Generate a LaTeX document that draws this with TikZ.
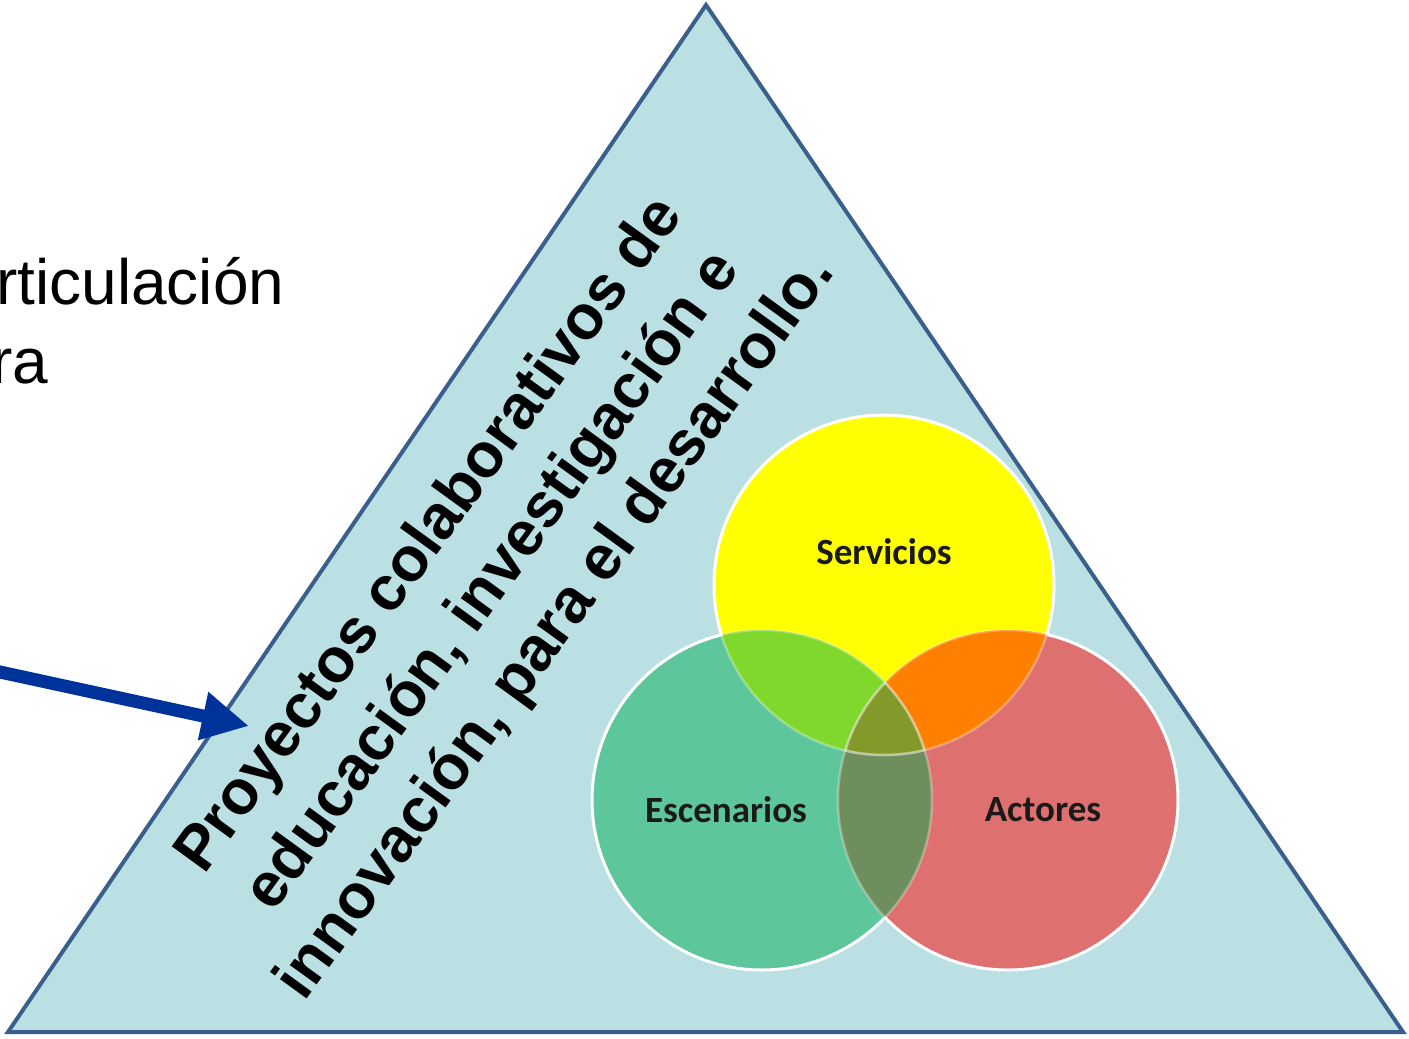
\documentclass[tikz,border=0pt]{standalone}
\usepackage{fontspec}
\setmainfont{Liberation Sans}
\newfontfamily\calib{Carlito}
\usetikzlibrary{arrows.meta}
\definecolor{trifill}{HTML}{BAE0E3}
\definecolor{triedge}{HTML}{3B5F8C}
\definecolor{arrowblue}{HTML}{003399}
\definecolor{cyel}{HTML}{FFFF00}
\definecolor{cgrn}{HTML}{5EC69B}
\definecolor{cred}{HTML}{DE7070}
\definecolor{cyg}{HTML}{7FD82B}
\definecolor{cyr}{HTML}{FF8000}
\definecolor{cgr}{HTML}{6E8E5E}
\definecolor{call}{HTML}{83992A}
\definecolor{lbltext}{HTML}{1A1A1A}
\begin{document}
\begin{tikzpicture}[x=1pt,y=-1pt,
  tri/.style={fill=trifill,draw=triedge,line width=4pt,line join=miter},
  bigtext/.style={font=\fontsize{64}{79}\selectfont,inner sep=0pt},
  rottext/.style={font=\fontsize{62.5}{78}\selectfont\bfseries,align=center,rotate=54,inner sep=0pt},
  lbl/.style={font=\calib\bfseries\fontsize{37}{44}\selectfont,text=lbltext,inner sep=0pt},
  ringin/.style={draw=white,draw opacity=0.3,line width=2.5pt},
  ringout/.style={draw=white,line width=3pt},
  bluearrow/.style={draw=arrowblue,line width=13pt,-{Triangle[length=47pt,width=46pt]}}
]
\useasboundingbox (0,0) rectangle (1409,1039);
\clip (0,0) rectangle (1409,1039);
\fill[white] (0,0) rectangle (1409,1039);

% triangle
\coordinate (apex) at (706,5);
\coordinate (br) at (1403,1032);
\coordinate (bl) at (8,1032);
\draw[tri] (apex) -- (br) -- (bl) -- cycle;

% left partial text
\node[bigtext,anchor=base west] (lt1) at (-4,304) {rticulación};
\node[bigtext,anchor=base west] (lt2) at (-9,383) {ra};

% arrow
\coordinate (arrS) at (-60,659);
\coordinate (arrT) at (249,726);
\draw[bluearrow] (arrS) -- (arrT);

% rotated text
\node[rottext] (proj) at (494,582) {Proyectos colaborativos de\\educación, investigación e\\innovación, para el desarrollo.};

% circles
\def\cS{(884,585) circle (170pt)}
\def\cE{(762,800) circle (170pt)}
\def\cA{(1008,800) circle (170pt)}
\fill[cyel] \cS;
\fill[cgrn] \cE;
\fill[cred] \cA;
\begin{scope}\clip \cS; \fill[cyg] \cE; \fill[cyr] \cA; \end{scope}
\begin{scope}\clip \cE; \fill[cgr] \cA; \end{scope}
\begin{scope}\clip \cS; \clip \cE; \fill[call] \cA; \end{scope}
% faint inner arcs
\begin{scope}\clip \cS; \path[ringin] \cE; \path[ringin] \cA; \end{scope}
\begin{scope}\clip \cE; \path[ringin] \cS; \path[ringin] \cA; \end{scope}
\begin{scope}\clip \cA; \path[ringin] \cS; \path[ringin] \cE; \end{scope}
% outer white borders
\begin{scope}[even odd rule]
  \clip (-100,-100) rectangle (1500,1200) \cE;
  \clip (-100,-100) rectangle (1500,1200) \cA;
  \path[ringout] \cS;
\end{scope}
\begin{scope}[even odd rule]
  \clip (-100,-100) rectangle (1500,1200) \cS;
  \clip (-100,-100) rectangle (1500,1200) \cA;
  \path[ringout] \cE;
\end{scope}
\begin{scope}[even odd rule]
  \clip (-100,-100) rectangle (1500,1200) \cS;
  \clip (-100,-100) rectangle (1500,1200) \cE;
  \path[ringout] \cA;
\end{scope}

% labels
\node[lbl] (serv) at (884,552) {Servicios};
\node[lbl] (esc) at (726,810) {Escenarios};
\node[lbl] (act) at (1043,810) {Actores};
\end{tikzpicture}
\end{document}
